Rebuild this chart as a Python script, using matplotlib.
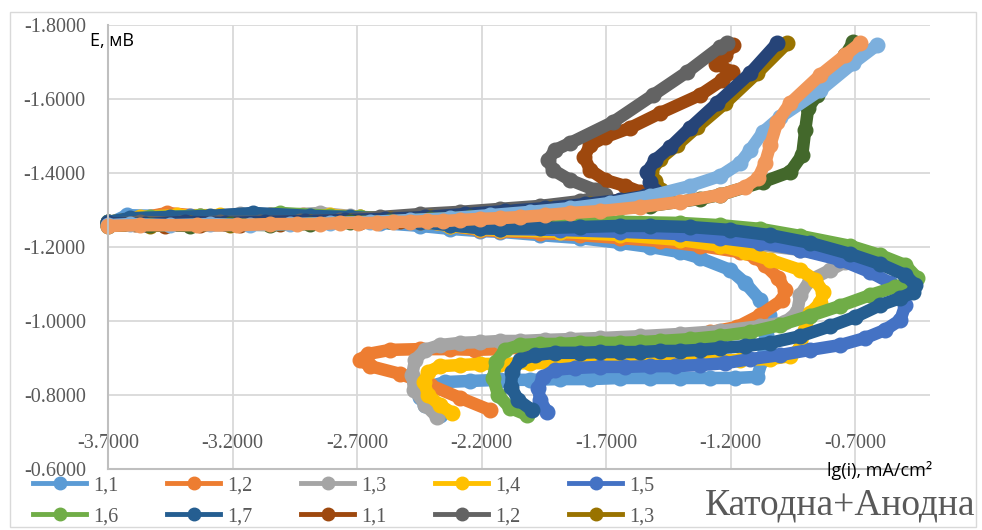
import matplotlib
matplotlib.use('Agg')
import matplotlib.pyplot as plt
from matplotlib.lines import Line2D
from matplotlib.patches import Rectangle
from matplotlib.ticker import FormatStrFormatter

# ---------------- data (lg(i), E) ----------------
series_names = ['1,1', '1,2', '1,3', '1,4', '1,5', '1,6', '1,7',
                '1,1', '1,2', '1,3', '1,4', '1,5', '1,6', '1,7']
series_colors = ['#5B9BD5', '#ED7D31', '#A5A5A5', '#FFC000', '#4472C4', '#70AD47', '#255E91',
                 '#9E480E', '#636363', '#997300', '#264478', '#43682B', '#7CAFDD', '#F1975A']

# cathodic 1,1
c1_x = [-2.367, -2.427, -2.447, -2.415, -2.347, -2.246, -2.126, -2.005, -1.885, -1.764, -1.644,
        -1.523, -1.403, -1.282, -1.182, -1.094, -1.073, -1.057, -1.045, -1.082, -1.142, -1.202,
        -1.323, -1.403, -1.523, -1.644, -1.804, -1.965, -2.126, -2.206, -2.327, -2.447, -2.608,
        -2.768, -2.929, -3.130, -3.331, -3.491, -3.624, -3.700]
c1_e = [-0.746, -0.773, -0.795, -0.822, -0.835, -0.838, -0.841, -0.841, -0.843, -0.843, -0.846,
        -0.846, -0.846, -0.846, -0.846, -0.849, -0.895, -0.962, -1.016, -1.057, -1.103, -1.138,
        -1.170, -1.186, -1.200, -1.211, -1.224, -1.232, -1.241, -1.243, -1.249, -1.257, -1.265,
        -1.273, -1.278, -1.281, -1.284, -1.284, -1.286, -1.262]
# cathodic 1,2
c2_x = [-2.166, -2.286, -2.407, -2.527, -2.648, -2.688, -2.656, -2.567, -2.447, -2.327, -2.226,
        -2.126, -2.005, -1.885, -1.724, -1.563, -1.403, -1.282, -1.174, -1.082, -0.993, -0.981,
        -1.009, -1.062, -1.102, -1.162, -1.323, -1.483, -1.644, -1.804, -1.965, -2.126, -2.206,
        -2.327, -2.447, -2.567, -2.688, -2.808, -2.917, -3.049, -3.170, -3.331, -3.463, -3.571,
        -3.700]
c2_e = [-0.759, -0.792, -0.827, -0.857, -0.878, -0.895, -0.911, -0.922, -0.924, -0.924, -0.922,
        -0.924, -0.930, -0.935, -0.943, -0.951, -0.959, -0.970, -0.984, -1.016, -1.057, -1.084,
        -1.116, -1.151, -1.173, -1.186, -1.203, -1.216, -1.224, -1.232, -1.238, -1.243, -1.246,
        -1.257, -1.268, -1.276, -1.281, -1.284, -1.286, -1.286, -1.284, -1.284, -1.292, -1.278,
        -1.268]
# cathodic 1,3
c3_x = [-2.379, -2.427, -2.471, -2.479, -2.467, -2.427, -2.367, -2.286, -2.206, -2.126, -2.045,
        -1.945, -1.845, -1.724, -1.563, -1.403, -1.242, -1.082, -0.981, -0.933, -0.921, -0.881,
        -0.800, -0.740, -0.780, -0.921, -1.082, -1.242, -1.403, -1.644, -1.885, -2.126, -2.206,
        -2.327, -2.487, -2.608, -2.728, -2.849, -3.009, -3.170, -3.371, -3.531, -3.700]
c3_e = [-0.741, -0.773, -0.814, -0.854, -0.895, -0.922, -0.935, -0.941, -0.943, -0.946, -0.946,
        -0.949, -0.951, -0.954, -0.959, -0.965, -0.973, -0.986, -0.997, -1.024, -1.070, -1.111,
        -1.138, -1.159, -1.173, -1.192, -1.205, -1.216, -1.224, -1.235, -1.241, -1.246, -1.249,
        -1.259, -1.270, -1.278, -1.284, -1.292, -1.286, -1.289, -1.281, -1.281, -1.268]
# cathodic 1,4
c4_x = [-2.318, -2.367, -2.415, -2.431, -2.415, -2.367, -2.286, -2.206, -2.126, -2.005, -1.885,
        -1.764, -1.644, -1.523, -1.403, -1.282, -1.162, -1.041, -0.961, -0.921, -0.901, -0.881,
        -0.840, -0.828, -0.861, -0.921, -1.041, -1.142, -1.242, -1.403, -1.644, -1.885, -2.126,
        -2.206, -2.327, -2.447, -2.567, -2.688, -2.808, -2.929, -3.090, -3.250, -3.423, -3.571,
        -3.700]
c4_e = [-0.751, -0.773, -0.800, -0.835, -0.862, -0.878, -0.881, -0.884, -0.884, -0.886, -0.886,
        -0.889, -0.889, -0.892, -0.892, -0.892, -0.895, -0.897, -0.905, -0.927, -0.976, -1.022,
        -1.049, -1.078, -1.111, -1.138, -1.165, -1.186, -1.203, -1.219, -1.232, -1.241, -1.246,
        -1.249, -1.257, -1.268, -1.276, -1.281, -1.286, -1.284, -1.284, -1.286, -1.286, -1.281,
        -1.268]
# cathodic 1,5
c5_x = [-1.937, -1.965, -1.973, -1.953, -1.905, -1.824, -1.724, -1.624, -1.523, -1.423, -1.323,
        -1.222, -1.122, -1.001, -0.881, -0.760, -0.660, -0.580, -0.519, -0.499, -0.507, -0.559,
        -0.640, -0.760, -0.921, -1.082, -1.242, -1.403, -1.644, -1.885, -2.126, -2.206, -2.327,
        -2.447, -2.567, -2.728, -2.889, -3.049, -3.210, -3.371, -3.531, -3.700]
c5_e = [-0.754, -0.786, -0.819, -0.849, -0.868, -0.873, -0.876, -0.876, -0.878, -0.878, -0.881,
        -0.886, -0.897, -0.908, -0.922, -0.935, -0.954, -0.976, -1.003, -1.043, -1.076, -1.103,
        -1.132, -1.165, -1.192, -1.211, -1.224, -1.235, -1.241, -1.246, -1.249, -1.251, -1.259,
        -1.268, -1.273, -1.278, -1.284, -1.284, -1.281, -1.284, -1.278, -1.268]
# cathodic 1,6
c6_x = [-2.017, -2.086, -2.134, -2.154, -2.142, -2.106, -2.045, -1.965, -1.885, -1.804, -1.724,
        -1.644, -1.563, -1.483, -1.363, -1.242, -1.122, -1.001, -0.881, -0.760, -0.640, -0.539,
        -0.479, -0.451, -0.499, -0.600, -0.720, -0.921, -1.082, -1.242, -1.403, -1.644, -1.804,
        -1.965, -2.126, -2.206, -2.327, -2.447, -2.567, -2.688, -2.808, -3.009, -3.170, -3.331,
        -3.531, -3.700]
c6_e = [-0.746, -0.765, -0.800, -0.846, -0.889, -0.922, -0.935, -0.938, -0.938, -0.941, -0.941,
        -0.941, -0.943, -0.946, -0.951, -0.959, -0.970, -0.989, -1.014, -1.041, -1.070, -1.092,
        -1.105, -1.116, -1.151, -1.178, -1.203, -1.230, -1.249, -1.259, -1.265, -1.268, -1.265,
        -1.262, -1.257, -1.257, -1.262, -1.270, -1.276, -1.281, -1.284, -1.292, -1.281, -1.284,
        -1.281, -1.268]
# cathodic 1,7
c7_x = [-1.997, -2.053, -2.082, -2.078, -2.045, -1.985, -1.905, -1.804, -1.724, -1.644, -1.563,
        -1.483, -1.403, -1.323, -1.242, -1.142, -1.041, -0.921, -0.800, -0.700, -0.600, -0.519,
        -0.467, -0.459, -0.499, -0.600, -0.720, -0.881, -1.041, -1.202, -1.363, -1.523, -1.644,
        -1.804, -1.965, -2.126, -2.206, -2.327, -2.447, -2.567, -2.728, -2.889, -3.118, -3.290,
        -3.451, -3.612, -3.700]
c7_e = [-0.759, -0.786, -0.822, -0.862, -0.895, -0.908, -0.914, -0.914, -0.916, -0.916, -0.916,
        -0.919, -0.919, -0.922, -0.927, -0.932, -0.941, -0.959, -0.986, -1.011, -1.043, -1.062,
        -1.078, -1.097, -1.124, -1.154, -1.181, -1.211, -1.232, -1.246, -1.254, -1.257, -1.257,
        -1.254, -1.251, -1.249, -1.251, -1.259, -1.268, -1.276, -1.281, -1.284, -1.292, -1.284,
        -1.281, -1.278, -1.268]
# anodic 1,1
a1_x = [-3.700, -3.592, -3.471, -3.331, -3.170, -3.009, -2.849, -2.688, -2.527, -2.367, -2.206,
        -2.045, -1.885, -1.724, -1.604, -1.563, -1.624, -1.704, -1.764, -1.788, -1.764, -1.704,
        -1.604, -1.483, -1.323, -1.234, -1.194, -1.258, -1.222, -1.190]
a1_e = [-1.259, -1.262, -1.257, -1.259, -1.259, -1.262, -1.265, -1.268, -1.270, -1.276, -1.281,
        -1.289, -1.300, -1.316, -1.335, -1.349, -1.365, -1.381, -1.408, -1.443, -1.476, -1.497,
        -1.522, -1.562, -1.611, -1.651, -1.673, -1.695, -1.719, -1.746]
# anodic 1,2
a2_x = [-3.700, -3.571, -3.411, -3.250, -3.090, -2.929, -2.768, -2.608, -2.447, -2.286, -2.126,
        -1.965, -1.804, -1.704, -1.744, -1.845, -1.913, -1.933, -1.905, -1.845, -1.672, -1.511,
        -1.375, -1.242, -1.214]
a2_e = [-1.262, -1.268, -1.265, -1.268, -1.268, -1.270, -1.273, -1.281, -1.289, -1.295, -1.303,
        -1.311, -1.324, -1.341, -1.354, -1.381, -1.408, -1.435, -1.462, -1.481, -1.538, -1.611,
        -1.673, -1.741, -1.751]
# anodic 1,3
a3_x = [-3.700, -3.531, -3.371, -3.210, -3.049, -2.889, -2.728, -2.567, -2.407, -2.246, -2.086,
        -1.925, -1.764, -1.624, -1.523, -1.479, -1.503, -1.519, -1.483, -1.415, -1.335, -1.222,
        -1.094, -0.973]
a3_e = [-1.259, -1.257, -1.265, -1.259, -1.262, -1.268, -1.270, -1.276, -1.281, -1.286, -1.295,
        -1.305, -1.316, -1.327, -1.338, -1.354, -1.378, -1.405, -1.438, -1.476, -1.524, -1.589,
        -1.670, -1.751]
# anodic 1,4
a4_x = [-3.700, -3.551, -3.391, -3.230, -3.069, -2.909, -2.748, -2.588, -2.427, -2.266, -2.106,
        -1.945, -1.784, -1.644, -1.543, -1.503, -1.523, -1.535, -1.503, -1.443, -1.363, -1.254,
        -1.122, -1.013]
a4_e = [-1.265, -1.262, -1.268, -1.265, -1.268, -1.270, -1.273, -1.276, -1.281, -1.289, -1.297,
        -1.305, -1.316, -1.327, -1.338, -1.351, -1.376, -1.403, -1.435, -1.470, -1.522, -1.589,
        -1.670, -1.751]
# anodic 1,5
a5_x = [-3.700, -3.531, -3.371, -3.210, -3.049, -2.889, -2.728, -2.567, -2.407, -2.246, -2.086,
        -1.925, -1.724, -1.523, -1.323, -1.242, -1.070, -0.961, -0.913, -0.901, -0.889, -0.853,
        -0.800, -0.740, -0.708]
a5_e = [-1.257, -1.259, -1.257, -1.262, -1.259, -1.262, -1.268, -1.270, -1.276, -1.281, -1.286,
        -1.292, -1.300, -1.311, -1.330, -1.341, -1.376, -1.403, -1.449, -1.516, -1.576, -1.611,
        -1.659, -1.719, -1.754]
# anodic 1,6
a6_x = [-3.700, -3.612, -3.451, -3.290, -3.130, -2.969, -2.808, -2.648, -2.487, -2.327, -2.166,
        -2.005, -1.845, -1.684, -1.523, -1.363, -1.242, -1.162, -1.122, -1.070, -1.001, -0.840,
        -0.708, -0.612]
a6_e = [-1.259, -1.262, -1.259, -1.262, -1.259, -1.262, -1.265, -1.268, -1.273, -1.278, -1.286,
        -1.295, -1.305, -1.319, -1.338, -1.365, -1.392, -1.427, -1.462, -1.511, -1.551, -1.624,
        -1.697, -1.746]
# anodic 1,7
a7_x = [-3.700, -3.571, -3.343, -3.182, -3.049, -2.941, -2.849, -2.768, -2.696, -2.620, -2.555,
        -2.487, -2.419, -2.355, -2.286, -2.206, -2.126, -2.045, -1.945, -1.845, -1.724, -1.563,
        -1.403, -1.242, -1.142, -1.090, -1.062, -1.041, -1.013, -0.961, -0.840, -0.740, -0.680]
a7_e = [-1.257, -1.259, -1.259, -1.259, -1.262, -1.262, -1.262, -1.265, -1.265, -1.265, -1.268,
        -1.268, -1.270, -1.270, -1.273, -1.276, -1.278, -1.281, -1.286, -1.292, -1.297, -1.308,
        -1.322, -1.341, -1.362, -1.386, -1.427, -1.476, -1.538, -1.589, -1.665, -1.719, -1.751]

series_x = [c1_x, c2_x, c3_x, c4_x, c5_x, c6_x, c7_x, a1_x, a2_x, a3_x, a4_x, a5_x, a6_x, a7_x]
series_e = [c1_e, c2_e, c3_e, c4_e, c5_e, c6_e, c7_e, a1_e, a2_e, a3_e, a4_e, a5_e, a6_e, a7_e]

x_ticks = [-3.7, -3.2, -2.7, -2.2, -1.7, -1.2, -0.7]
y_ticks = [-1.8, -1.6, -1.4, -1.2, -1.0, -0.8, -0.6]

SERIF = ['Liberation Serif', 'DejaVu Serif']
SANS = ['Open Sans', 'DejaVu Sans']
GRAY_TXT = '#595959'

W, H = 982, 530
fig = plt.figure(figsize=(W / 100, H / 100), dpi=100)
fig.patches.append(Rectangle((10 / W, 1 - 527 / H), 966 / W, 515 / H, transform=fig.transFigure,
                             fill=False, edgecolor='#D9D9D9', lw=1.0))

ax = fig.add_axes([108 / W, 1 - 469 / H, (930 - 108) / W, (469 - 25) / H])
ax.set_xlim(-3.7, -0.4)
ax.set_ylim(-0.6, -1.8)
ax.set_xticks(x_ticks)
ax.set_yticks(y_ticks)
ax.xaxis.set_major_formatter(FormatStrFormatter('%.4f'))
ax.yaxis.set_major_formatter(FormatStrFormatter('%.4f'))
ax.grid(True, color='#D9D9D9', lw=1.3)
ax.set_axisbelow(True)
for s in ['top', 'right']:
    ax.spines[s].set_visible(False)
for s in ['left', 'bottom']:
    ax.spines[s].set_color('#BFBFBF')
    ax.spines[s].set_linewidth(1.5)
ax.tick_params(axis='both', length=0, labelsize=14.5, labelcolor=GRAY_TXT)
ax.tick_params(axis='x', pad=-25.5)
ax.tick_params(axis='y', pad=16)
for lab in ax.get_xticklabels() + ax.get_yticklabels():
    lab.set_family(SERIF)

handles = []
for xs, es, col, name in zip(series_x, series_e, series_colors, series_names):
    ax.plot(xs, es, color=col, lw=9, marker='o', ms=10.5, solid_capstyle='round',
            solid_joinstyle='round', clip_on=False)
    handles.append(Line2D([], [], color=col, lw=3.5, marker='o', ms=9, label=name))

# legend shows the first ten series, read row by row (2 rows x 5 columns)
order = [0, 5, 1, 6, 2, 7, 3, 8, 4, 9]
leg = fig.legend(handles=[handles[i] for i in order], labels=[series_names[i] for i in order],
                 ncol=5, loc='upper left',
                 bbox_to_anchor=(33 / W, 1 - 476 / H), frameon=False,
                 prop={'family': SERIF, 'size': 14.5}, handlelength=2.65, handletextpad=0.35,
                 columnspacing=2.4, labelspacing=0.6, borderpad=0, borderaxespad=0)
for t in leg.get_texts():
    t.set_color(GRAY_TXT)

fig.text(90 / W, 1 - 41 / H, 'E, мВ', family=SANS, fontsize=13, color='black', va='center')
fig.text(827 / W, 1 - 470 / H, 'lg(i), mA/cm²', family=SANS, fontsize=13, color='black',
         va='center')
fig.text(705 / W, 1 - 505 / H, 'Катодна+Анодна', family=SERIF, fontsize=27, color=GRAY_TXT,
         va='center')

fig.savefig('out.png', dpi=100)
